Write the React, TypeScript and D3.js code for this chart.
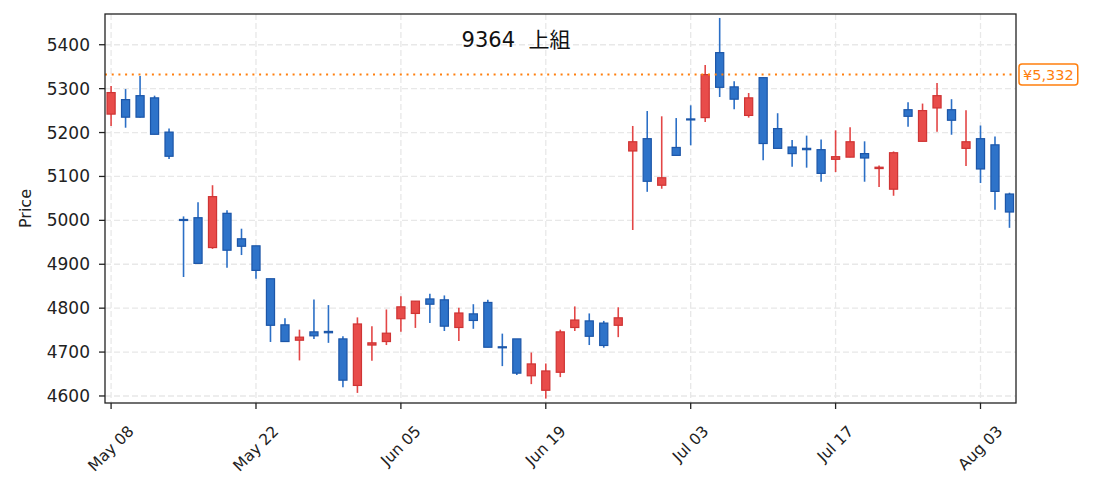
import React, { useRef, useEffect } from "react";
import * as d3 from "d3";

// daily OHLC, one value per trading day (index 0 = May 08)
const opens = [
  5242, 5275, 5284, 5279, 5201, 5002, 5006, 4938, 5016, 4958, 4942, 4867, 4762, 4727, 4746, 4747,
  4730, 4624, 4716, 4724, 4776, 4788, 4821, 4819, 4756, 4787, 4813, 4712, 4730, 4646, 4613, 4654,
  4756, 4771, 4766, 4761, 5158, 5186, 5080, 5166, 5231, 5234, 5382, 5304, 5239, 5325, 5209, 5167,
  5164, 5161, 5139, 5144, 5152, 5118, 5071, 5252, 5180, 5256, 5252, 5164, 5186, 5172, 5060,
];
const highs = [
  5306, 5299, 5329, 5284, 5209, 5009, 5041, 5080, 5023, 4981, 4942, 4867, 4777, 4751, 4820, 4807,
  4736, 4779, 4759, 4797, 4827, 4816, 4833, 4829, 4801, 4809, 4819, 4742, 4730, 4699, 4674, 4751,
  4804, 4788, 4771, 4802, 5215, 5249, 5237, 5233, 5262, 5354, 5461, 5317, 5290, 5325, 5244, 5183,
  5193, 5184, 5205, 5212, 5180, 5125, 5157, 5269, 5266, 5313, 5276, 5251, 5216, 5191, 5063,
];
const lows = [
  5215, 5211, 5234, 5196, 5140, 4871, 4902, 4935, 4892, 4921, 4867, 4723, 4724, 4681, 4730, 4721,
  4620, 4607, 4680, 4716, 4746, 4755, 4766, 4748, 4725, 4753, 4711, 4668, 4648, 4627, 4594, 4643,
  4748, 4716, 4710, 4734, 4978, 5065, 5072, 5148, 5171, 5224, 5281, 5253, 5234, 5137, 5164, 5122,
  5120, 5088, 5110, 5144, 5088, 5076, 5056, 5213, 5180, 5202, 5195, 5124, 5085, 5024, 4983,
];
const closes = [
  5291, 5235, 5235, 5196, 5146, 5000, 4902, 5054, 4932, 4941, 4886, 4761, 4724, 4734, 4737, 4744,
  4636, 4764, 4721, 4743, 4803, 4816, 4809, 4759, 4789, 4772, 4711, 4710, 4652, 4673, 4657, 4746,
  4773, 4736, 4715, 4778, 5179, 5089, 5097, 5148, 5229, 5332, 5303, 5276, 5279, 5175, 5164, 5152,
  5161, 5107, 5145, 5179, 5142, 5121, 5154, 5237, 5250, 5284, 5228, 5179, 5117, 5066, 5019,
];

const tickIndex = [0, 10, 20, 30, 40, 50, 60];
const tickLabels = ["May 08", "May 22", "Jun 05", "Jun 19", "Jul 03", "Jul 17", "Aug 03"];
const priceTicks = [4600, 4700, 4800, 4900, 5000, 5100, 5200, 5300, 5400];
const targetPrice = 5332;
const title = "9364  上組";

const FONT = "'DejaVu Sans', 'Noto Sans CJK JP', sans-serif";

const CandleChart: React.FC = () => {
  const ref = useRef<SVGSVGElement | null>(null);

  useEffect(() => {
    if (!ref.current) return;
    const svg = d3.select(ref.current);
    svg.selectAll("*").remove();

    const width = 1095;
    const height = 492;
    const margin = { top: 14, right: 79, bottom: 89, left: 105 };
    const x0 = margin.left;
    const x1 = width - margin.right;
    const y0 = margin.top;
    const y1 = height - margin.bottom;

    const n = closes.length;
    const x = d3.scaleLinear().domain([-0.42, n - 1 + 0.45]).range([x0, x1]);
    const y = d3.scaleLinear().domain([4584, 5470]).range([y1, y0]);
    const step = x(1) - x(0);
    const bodyW = step * 0.56;

    svg.attr("width", width).attr("height", height).attr("viewBox", `0 0 ${width} ${height}`);
    svg.append("rect").attr("width", width).attr("height", height).attr("fill", "#fff");

    // grid
    const grid = svg.append("g").attr("stroke", "#e8e8e8").attr("stroke-width", 1.3).attr("stroke-dasharray", "6 3");
    priceTicks.forEach((p) => {
      grid.append("line").attr("x1", x0).attr("x2", x1).attr("y1", y(p)).attr("y2", y(p));
    });
    tickIndex.forEach((i) => {
      grid.append("line").attr("x1", x(i)).attr("x2", x(i)).attr("y1", y0).attr("y2", y1);
    });

    // candles
    const idx = d3.range(n);
    const up = (i: number) => closes[i] >= opens[i];
    const g = svg.append("g");
    g.selectAll("line.wick")
      .data(idx)
      .join("line")
      .attr("class", "wick")
      .attr("x1", (i) => x(i))
      .attr("x2", (i) => x(i))
      .attr("y1", (i) => y(highs[i]))
      .attr("y2", (i) => y(lows[i]))
      .attr("stroke", (i) => (up(i) ? "#e34646" : "#2b6fc6"))
      .attr("stroke-width", 1.6);
    g.selectAll("rect.body")
      .data(idx)
      .join("rect")
      .attr("class", "body")
      .attr("x", (i) => x(i) - bodyW / 2)
      .attr("width", bodyW)
      .attr("y", (i) => y(Math.max(opens[i], closes[i])))
      .attr("height", (i) => Math.max(1, Math.abs(y(opens[i]) - y(closes[i]))))
      .attr("fill", (i) => (up(i) ? "#e84c4a" : "#2e73c9"))
      .attr("stroke", (i) => (up(i) ? "#cf3434" : "#1c56a8"))
      .attr("stroke-width", 1.2);

    // target line
    svg
      .append("line")
      .attr("x1", x0)
      .attr("x2", x1)
      .attr("y1", y(targetPrice))
      .attr("y2", y(targetPrice))
      .attr("stroke", "#ff7f0e")
      .attr("stroke-width", 2)
      .attr("stroke-dasharray", "2 4.7");

    // spines
    svg
      .append("rect")
      .attr("x", x0)
      .attr("y", y0)
      .attr("width", x1 - x0)
      .attr("height", y1 - y0)
      .attr("fill", "none")
      .attr("stroke", "#222")
      .attr("stroke-width", 1.3);

    // y axis
    const yAxis = svg.append("g").attr("font-family", FONT).attr("font-size", 17).attr("fill", "#222");
    priceTicks.forEach((p) => {
      yAxis.append("line").attr("x1", x0 - 6).attr("x2", x0).attr("y1", y(p)).attr("y2", y(p)).attr("stroke", "#222").attr("stroke-width", 1.3);
      yAxis
        .append("text")
        .attr("x", x0 - 15)
        .attr("y", y(p))
        .attr("text-anchor", "end")
        .attr("dominant-baseline", "central")
        .text(p);
    });
    yAxis
      .append("text")
      .attr("transform", `translate(25,${(y0 + y1) / 2}) rotate(-90)`)
      .attr("text-anchor", "middle")
      .attr("dominant-baseline", "central")
      .attr("font-size", 16)
      .text("Price");

    // x axis
    const xAxis = svg.append("g").attr("font-family", FONT).attr("font-size", 15.5).attr("fill", "#222");
    tickIndex.forEach((i, k) => {
      xAxis.append("line").attr("x1", x(i)).attr("x2", x(i)).attr("y1", y1).attr("y2", y1 + 6).attr("stroke", "#222").attr("stroke-width", 1.3);
      const t = xAxis
        .append("text")
        .attr("text-anchor", "middle")
        .attr("dominant-baseline", "central")
        .text(tickLabels[k]);
      const len = (t.node() as SVGTextElement).getComputedTextLength();
      const half = ((len + 16) * Math.SQRT1_2) / 2;
      t.attr("transform", `translate(${x(i)},${y1 + 20 + half}) rotate(-45)`);
    });

    // title
    svg
      .append("text")
      .attr("x", 516)
      .attr("y", 47)
      .attr("text-anchor", "middle")
      .attr("font-family", FONT)
      .attr("font-size", 21)
      .attr("fill", "#111")
      .style("white-space", "pre")
      .text(title);

    // price tag
    const tag = svg.append("g").attr("font-family", FONT).attr("font-size", 14.5);
    const tagText = tag
      .append("text")
      .attr("x", x1 + 7)
      .attr("y", y(targetPrice))
      .attr("dominant-baseline", "central")
      .attr("fill", "#ff7f0e")
      .text(`¥${d3.format(",")(targetPrice)}`);
    const tl = (tagText.node() as SVGTextElement).getComputedTextLength();
    tag
      .insert("rect", "text")
      .attr("x", x1 + 3)
      .attr("y", y(targetPrice) - 10.5)
      .attr("width", tl + 8)
      .attr("height", 21)
      .attr("rx", 3)
      .attr("fill", "#fff")
      .attr("stroke", "#ff7f0e")
      .attr("stroke-width", 1.5);
  }, []);

  return <svg ref={ref} style={{ position: "absolute", left: 0, top: 0 }} />;
};

export default function App() {
  return <CandleChart />;
}
